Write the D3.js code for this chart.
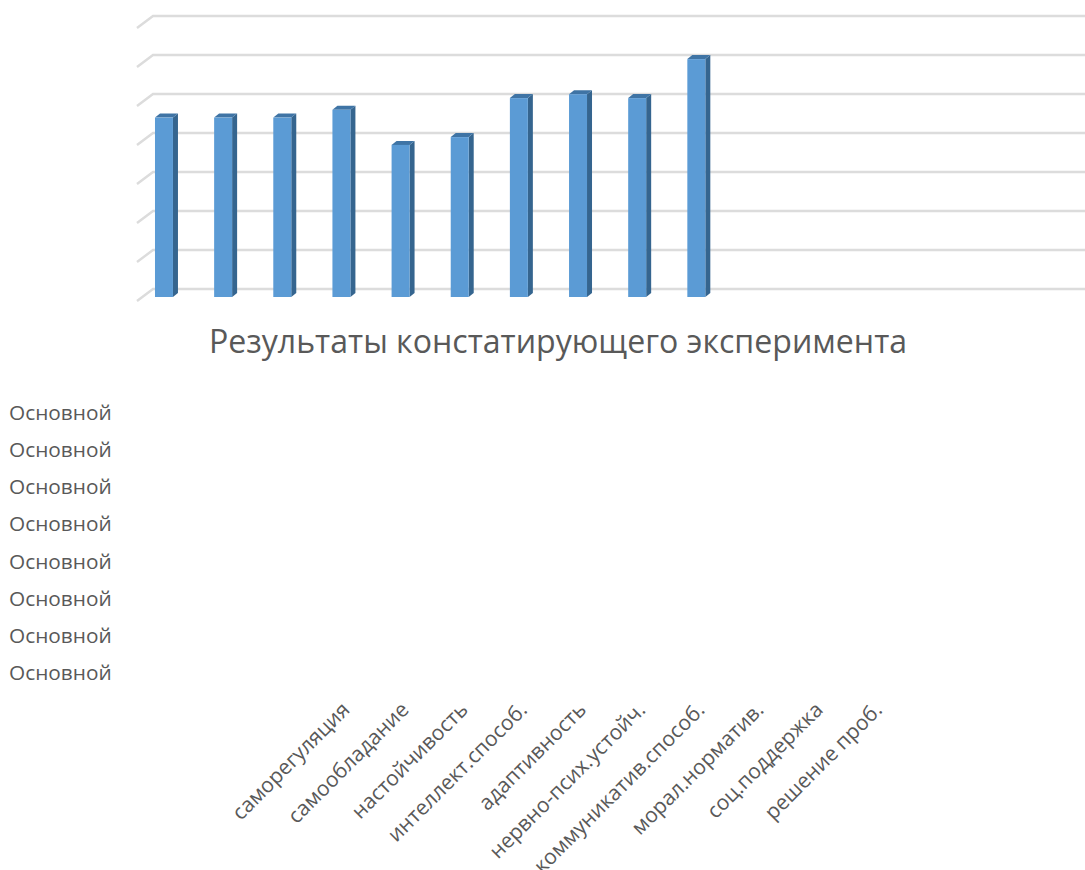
<!DOCTYPE html>
<html><head><meta charset="utf-8">
<script src="https://cdn.jsdelivr.net/npm/d3@7"></script>
<style>html,body{margin:0;padding:0;background:#fff;overflow:hidden}svg{display:block}</style>
</head><body><div id="c"></div>
<script>
const categories = ["саморегуляция","самообладание","настойчивость","интеллект.способ.","адаптивность","нервно-псих.устойч.","коммуникатив.способ.","морал.норматив.","соц.поддержка","решение проб."];
const values = [4.6,4.6,4.6,4.8,3.9,4.1,5.1,5.2,5.1,6.1];
const gridTicks = [0,1,2,3,4,5,6,7];
const sideLabels = ["Основной","Основной","Основной","Основной","Основной","Основной","Основной","Основной"];
const titleText = "Результаты констатирующего эксперимента";

const W = 1085, H = 870;
const svg = d3.select("#c").append("svg").attr("width",W).attr("height",H);
const x = d3.scaleBand().domain(categories).range([134.4,725.9]).paddingInner(0.696).paddingOuter(0.348);
const y = d3.scaleLinear().domain([0,7]).range([297,24]);
const bw = x.bandwidth(), d = 5;

const grid = svg.append("g").attr("fill","none").attr("stroke","#dcdcdc").attr("stroke-width",2.4);
grid.selectAll("path").data(gridTicks).join("path")
  .attr("d", v => { const b = y(v)-8; return `M137,${b+12}L153,${b}L${W},${b}`; });

const bars = svg.append("g").selectAll("g").data(values).join("g");
bars.append("path").attr("fill","#35658f")
  .attr("d",(v,i)=>{const a=x(categories[i])+bw,t=y(v);return `M${a},${t}L${a+d},${t-4}L${a+d},${y(0)-4}L${a},${y(0)}Z`;});
bars.append("path").attr("fill","#3f74a5")
  .attr("d",(v,i)=>{const a=x(categories[i]),t=y(v);return `M${a},${t}L${a+d},${t-4}L${a+bw+d},${t-4}L${a+bw},${t}Z`;});
bars.append("rect").attr("fill","#5b9bd5")
  .attr("x",(v,i)=>x(categories[i])).attr("width",bw)
  .attr("y",v=>y(v)).attr("height",v=>y(0)-y(v));

svg.append("text").attr("x",558).attr("y",353).attr("text-anchor","middle")
  .attr("font-family","'Open Sans'").attr("font-size",32.1).attr("fill","#595959").text(titleText);

const sideY = d3.scalePoint().domain(d3.range(sideLabels.length)).range([420,680]);
svg.append("g").selectAll("text").data(sideLabels).join("text")
  .attr("x",9).attr("y",(s,i)=>sideY(i))
  .attr("font-family","'Open Sans'").attr("font-size",20.8).attr("fill","#595959").text(s=>s);

const axis = svg.append("g").attr("transform","translate(187,711)").call(d3.axisBottom(x).tickSize(0).tickPadding(0));
axis.select(".domain").remove();
axis.selectAll("text")
  .attr("font-family","'Open Sans'").attr("font-size",21).attr("fill","#595959")
  .attr("text-anchor","end").attr("dy",0).attr("y",0).attr("x",0)
  .attr("transform","rotate(-45)");
</script></body></html>
